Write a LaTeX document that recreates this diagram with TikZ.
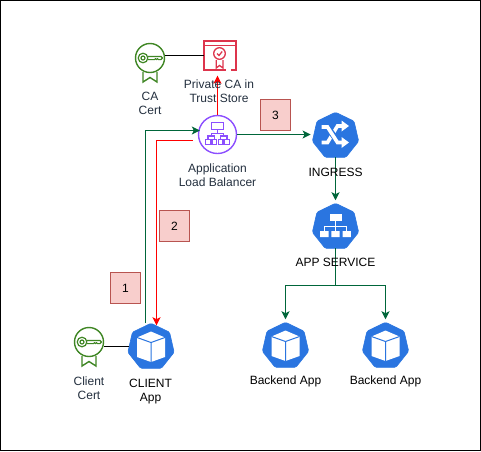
\documentclass[tikz,border=0pt]{standalone}
\usepackage{fontspec}
\setmainfont{Liberation Sans}
\usetikzlibrary{shapes.geometric,arrows.meta}
\definecolor{kblue}{HTML}{2A75E0}
\definecolor{flowgreen}{HTML}{00663A}
\definecolor{flowred}{HTML}{FF0000}
\definecolor{certgreen}{HTML}{3F8624}
\definecolor{storered}{HTML}{DD344C}
\definecolor{albpurple}{HTML}{8C4FFF}
\definecolor{awstext}{HTML}{232F3E}
\definecolor{stepfill}{HTML}{F8CECC}
\definecolor{stepline}{HTML}{B85450}
\tikzset{
  x=1pt,y=-1pt,
  txt/.style={inner sep=0pt,align=center,font=\fontsize{12}{14}\selectfont,text=black},
  awstxt/.style={txt,text=awstext},
  hept/.style={regular polygon,regular polygon sides=7,minimum size=47.5pt,inner sep=0pt,outer sep=0pt,fill=kblue,draw=kblue,line width=.6pt,rounded corners=1.5pt},
  stepbox/.style={draw=stepline,fill=stepfill,line width=.9pt,minimum width=30.5pt,minimum height=30.5pt,inner sep=0pt,font=\fontsize{12}{14}\selectfont,text=black},
  certnode/.style={circle,draw=certgreen,line width=1.4pt,minimum size=29pt,inner sep=0pt,fill=white},
  albnode/.style={circle,draw=albpurple,line width=1.4pt,minimum size=38pt,inner sep=0pt,fill=white},
  tip/.style={-{Stealth[length=8pt,width=8pt,inset=2pt]}},
  greenflow/.style={draw=flowgreen,line width=1pt},
  redflow/.style={draw=flowred,line width=1pt},
  plain/.style={draw=black,line width=1pt},
  albline/.style={draw=albpurple,line width=1.1pt},
  storeline/.style={draw=storered,line width=1.3pt},
  cubeglyph/.pic={
    \fill[white] (0,-15.5)--(14,-9.5)--(14,10)--(0,15)--(-14,10)--(-14,-9.5)--cycle;
    \draw[kblue,line width=1pt,line join=round] (-14,-9.5)--(0,-4.5)--(14,-9.5) (0,-4.5)--(0,15);
  },
  keyglyph/.pic={
    \draw[certgreen,line width=1.2pt] (-7,0) circle (4.8pt) (-7,0) circle (2pt);
    \draw[certgreen,line width=1.2pt,line join=round] (-2.2,-1.6)--(11,-1.6)--(12.5,0)--(11,1.6)--(8.5,1.6)--(7.5,.6)--(6.5,1.6)--(5.5,.6)--(4.5,1.6)--(-2.2,1.6);
    \draw[certgreen,line width=1.4pt,line join=miter] (-7,14)--(-7,24)--(0,19.5)--(7,24)--(7,14);
  },
}
\begin{document}
\begin{tikzpicture}
\useasboundingbox (0,0) rectangle (481,451);
\draw[black,line width=1pt] (.5,.5) rectangle (480.5,450.5);

% nodes
\node[hept] (client) at (151,347) {};
\node[hept] (backa) at (285.5,346) {};
\node[hept] (backb) at (385.5,346) {};
\node[hept] (ingress) at (335.5,136) {};
\node[hept] (appsvc) at (335.5,227) {};
\node[albnode] (alb) at (217.5,134.5) {};
\node[certnode] (cacert) at (150,58) {};
\node[certnode] (clientcert) at (89,342) {};
\node[minimum width=32pt,minimum height=29pt,inner sep=0pt] (castore) at (220,55.5) {};

% glyphs
\pic at (client.center) {cubeglyph};
\pic at (backa.center) {cubeglyph};
\pic at (backb.center) {cubeglyph};
\pic at (cacert.center) {keyglyph};
\pic at (clientcert.center) {keyglyph};

% ingress glyph
\begin{scope}[shift={(ingress.center)}]
  \draw[white,line width=3.6pt,line join=miter] (-14,6.5)--(-8,6.5)--(2,-10)--(7,-10);
  \fill[white] (13.5,-10)--(6,-15.5)--(6,-4.5)--cycle;
  \draw[kblue,line width=6pt] (-6,-6)--(3,6.5);
  \draw[white,line width=3.6pt,line join=miter] (-14,-9)--(-8,-9)--(2,6.5)--(7,6.5);
  \fill[white] (13.5,6.5)--(6,1)--(6,12)--cycle;
\end{scope}

% service glyph
\begin{scope}[shift={(appsvc.center)}]
  \fill[white] (-6,-13) rectangle (6,-6.5);
  \fill[white] (-15.3,4) rectangle (-7,10) (-4.2,4) rectangle (4.2,10) (7,4) rectangle (15.3,10);
  \draw[white,line width=.9pt] (0,-6.5)--(0,4) (-11,4)--(-11,-1)--(11,-1)--(11,4);
\end{scope}

% load balancer glyph
\begin{scope}[shift={(alb.center)}]
  \draw[albline] (-6,-12) rectangle (6,-5.3);
  \draw[albline] (-12,5.3) rectangle (-7,10) (-5.5,5.3) rectangle (-.8,10) (.8,5.3) rectangle (5.5,10) (7,5.3) rectangle (12,10);
  \draw[albline] (0,-5.3)--(0,-1) (-6,1.5)--(-6,-1)--(6,-1)--(6,1.5)
        (-9.5,5.3)--(-9.5,1.5)--(-3,1.5)--(-3,5.3)
        (3,5.3)--(3,1.5)--(9.5,1.5)--(9.5,5.3);
\end{scope}

% trust store glyph
\begin{scope}[shift={(castore.center)}]
  \draw[storeline] (5.5,14.5)--(-16,14.5)--(-16,-14.5)--(16,-14.5)--(16,14.5)--(10.5,14.5);
  \draw[storeline] (-16,-10)--(16,-10);
  \draw[storeline] (-.5,-2) circle (5.8pt);
  \draw[storeline] (-3,-2)--(-1,0)--(2.2,-4);
  \draw[storeline] (-3.8,4.5)--(-3.8,12.5)--(-.5,10)--(3,12.5)--(3,4.5);
\end{scope}

% connectors
\draw[plain] (cacert.east |- castore.west) -- (castore.west);
\draw[plain] ([yshift=-4.5pt]clientcert.east) -- ([yshift=-4.5pt]clientcert.east -| client.west);
\draw[redflow,tip,shorten >=5.5pt] (alb.north) -- (alb.north |- castore.south);
\draw[greenflow,tip,shorten >=-2pt] ([xshift=-5.5pt]client.north) |- ([yshift=4pt]alb.west);
\draw[redflow,tip,shorten >=-2pt,shorten <=5pt] ([yshift=-6pt]alb.west) -| ([xshift=5.5pt]client.north);
\draw[greenflow,tip,shorten >=3pt] (alb.east) -- (alb.east -| ingress.west);
\draw[greenflow,tip,shorten >=3pt] (ingress.south) -- (appsvc.north);
\coordinate (split) at (335.5,285.5);
\draw[greenflow] (appsvc.south) -- (split);
\draw[greenflow,tip,shorten >=3pt] (split) -| (backa.north);
\draw[greenflow,tip,shorten >=3pt] (split) -| (backb.north);

% step boxes
\node[stepbox] (stepa) at (125.5,288) {1};
\node[stepbox] (stepb) at (174.5,226) {2};
\node[stepbox] (stepc) at (275.5,115) {3};

% labels
\node[awstxt] (lcacert) at (150,103) {CA\\Cert};
\node[awstxt] (lstore) at (219,91) {Private CA in\\Trust Store};
\node[awstxt] (lalb) at (217.5,175) {Application\\Load Balancer};
\node[txt] (lclient) at (150.5,392) {CLIENT\\App};
\node[awstxt] (lcc) at (89,388) {Client\\Cert};
\node[txt] (lingress) at (335.5,172) {INGRESS};
\node[txt] (lappsvc) at (335.5,262) {APP SERVICE};
\node[txt] (lbacka) at (285.5,381.5) {Backend App};
\node[txt] (lbackb) at (385.5,381.5) {Backend App};
\end{tikzpicture}
\end{document}
